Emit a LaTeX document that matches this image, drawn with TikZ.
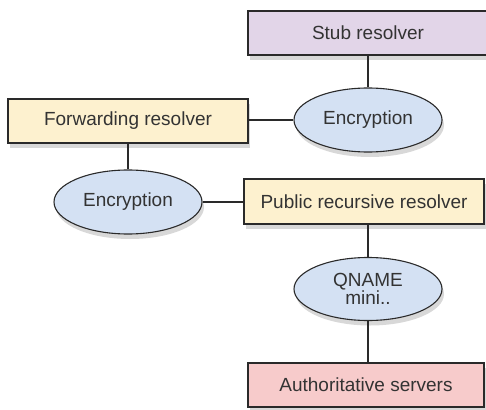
\documentclass[tikz,border=0pt]{standalone}
\usepackage{fontspec}
\setmainfont{Liberation Sans}
\usetikzlibrary{shapes.geometric,shadows}
\definecolor{stubfill}{HTML}{E2D5E8}
\definecolor{yelfill}{HTML}{FDF1CF}
\definecolor{bluefill}{HTML}{D4E1F3}
\definecolor{pinkfill}{HTML}{F7CBCB}
\definecolor{txt}{HTML}{333333}
\definecolor{edge}{HTML}{2A2A2A}
\tikzset{
  base/.style={draw=edge, line width=1.1pt, inner sep=0pt, text=txt,
    font=\fontsize{19}{18}\selectfont,
    drop shadow={shadow xshift=2pt, shadow yshift=-5pt, opacity=0.22, fill=black!70}},
  boxnode/.style={base, rectangle, minimum height=44pt},
  ellnode/.style={base, ellipse, minimum width=148pt, minimum height=64pt, fill=bluefill, align=center},
  link/.style={draw=edge, line width=1.1pt}
}
\begin{document}
\begin{tikzpicture}[x=1pt,y=-1pt]
\useasboundingbox (0,0) rectangle (486,409);
\node[boxnode, fill=stubfill, minimum width=240pt] (stub) at (368,33) {Stub resolver};
\node[ellnode] (enc1) at (368,120) {Encryption};
\node[boxnode, fill=yelfill, minimum width=240pt] (fwd) at (128,121) {Forwarding resolver};
\node[ellnode] (enc2) at (128,202) {Encryption};
\node[boxnode, fill=yelfill, minimum width=240pt, minimum height=45pt] (pub) at (364,201.5) {Public recursive resolver};
\node[ellnode, minimum height=63pt] (qn) at (368,289) {QNAME\\mini..};
\node[boxnode, fill=pinkfill, minimum width=236pt] (auth) at (366,385) {Authoritative servers};
\draw[link] (stub.south -| enc1.north) -- (enc1.north);
\draw[link] (enc1.west) -- (fwd.east |- enc1.west);
\draw[link] (fwd.south) -- (enc2.north);
\draw[link] (enc2.east) -- (pub.west |- enc2.east);
\draw[link] (pub.south -| qn.north) -- (qn.north);
\draw[link] (qn.south) -- (auth.north -| qn.south);
\end{tikzpicture}
\end{document}
